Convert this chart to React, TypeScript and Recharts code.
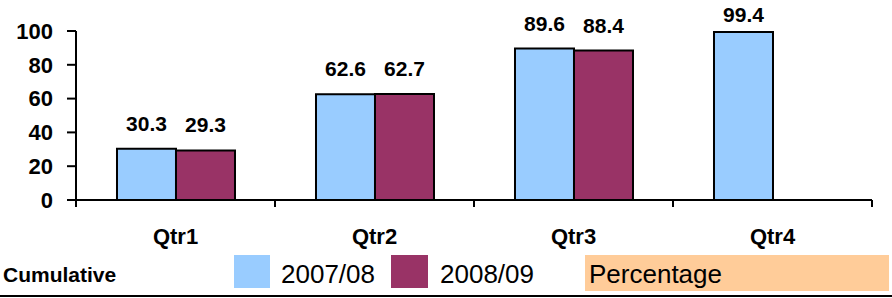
import React from 'react';
import { BarChart, Bar, XAxis, YAxis, LabelList } from 'recharts';

const categories = ['Qtr1', 'Qtr2', 'Qtr3', 'Qtr4'];
const series0708: (number | null)[] = [30.3, 62.6, 89.6, 99.4];
const series0809: (number | null)[] = [29.3, 62.7, 88.4, null];
const yTicks = [0, 20, 40, 60, 80, 100];
const seriesNames = ['2007/08', '2008/09'];
const legendTitle = 'Cumulative';
const extraLabel = 'Percentage';

const data = categories.map((c, i) => ({ name: c, a: series0708[i], b: series0809[i] }));

const FONT = '"Liberation Sans", Arial, Helvetica, sans-serif';
const BLUE = '#99CCFF';
const MAROON = '#993366';
const ORANGE = '#FFCC99';

const XTick = (props: any) => {
  const { x, y, payload, index, visibleTicksCount } = props;
  const half = payload && typeof payload.offset === 'number' ? payload.offset : 0;
  const last = index === (visibleTicksCount ?? categories.length) - 1;
  return (
    <g>
      <line x1={x - half} x2={x - half} y1={y} y2={y + 7} stroke="#000" strokeWidth={2} />
      {last && <line x1={x + half} x2={x + half} y1={y} y2={y + 7} stroke="#000" strokeWidth={2} />}
      <text x={x} y={y + 44} textAnchor="middle" fontFamily={FONT} fontWeight="bold" fontSize={22} fill="#000">
        {payload.value}
      </text>
    </g>
  );
};

const TopLabel = (props: any) => {
  const { x, y, width, value } = props;
  if (value === null || value === undefined) return null;
  const by = Math.max(Number(y) - 18, 22);
  return (
    <text x={Number(x) + Number(width) / 2} y={by} textAnchor="middle" fontFamily={FONT} fontWeight="bold" fontSize={21} fill="#000">
      {value}
    </text>
  );
};

export default function App() {
  return (
    <div style={{ position: 'absolute', left: 0, top: 0, width: 892, height: 298, background: '#fff' }}>
      <BarChart
        width={892}
        height={298}
        data={data}
        margin={{ top: 31, right: 20, bottom: 68, left: 0 }}
        barCategoryGap="20.6%"
        barGap={0}
      >
        <XAxis
          dataKey="name"
          height={30}
          axisLine={{ stroke: '#000', strokeWidth: 2 }}
          tickLine={false}
          tickSize={0}
          tickMargin={0}
          interval={0}
          tick={<XTick />}
        />
        <YAxis
          width={76}
          domain={[0, 100]}
          ticks={yTicks}
          interval={0}
          axisLine={{ stroke: '#000', strokeWidth: 2 }}
          tickLine={{ stroke: '#000', strokeWidth: 2 }}
          tickSize={9}
          tickMargin={14}
          tick={{ fill: '#000', fontSize: 22, fontWeight: 'bold', fontFamily: FONT }}
        />
        <Bar dataKey="a" name={seriesNames[0]} fill={BLUE} stroke="#000" strokeWidth={2} isAnimationActive={false}>
          <LabelList dataKey="a" content={<TopLabel />} />
        </Bar>
        <Bar dataKey="b" name={seriesNames[1]} fill={MAROON} stroke="#000" strokeWidth={2} isAnimationActive={false}>
          <LabelList dataKey="b" content={<TopLabel />} />
        </Bar>
      </BarChart>
      <svg width={892} height={298} style={{ position: 'absolute', left: 0, top: 0, pointerEvents: 'none' }}>
        <text x={3} y={282} fontFamily={FONT} fontWeight="bold" fontSize={21} fill="#000">{legendTitle}</text>
        <rect x={234} y={255} width={36} height={33} fill={BLUE} />
        <text x={281} y={283} fontFamily={FONT} fontSize={26} fill="#000">{seriesNames[0]}</text>
        <rect x={391} y={255} width={37} height={33} fill={MAROON} />
        <text x={440} y={283} fontFamily={FONT} fontSize={26} fill="#000">{seriesNames[1]}</text>
        <rect x={585} y={255} width={304} height={36} fill={ORANGE} />
        <text x={589} y={283} fontFamily={FONT} fontSize={26} fill="#000">{extraLabel}</text>
        <line x1={0} x2={892} y1={296} y2={296} stroke="#000" strokeWidth={2} />
      </svg>
    </div>
  );
}
